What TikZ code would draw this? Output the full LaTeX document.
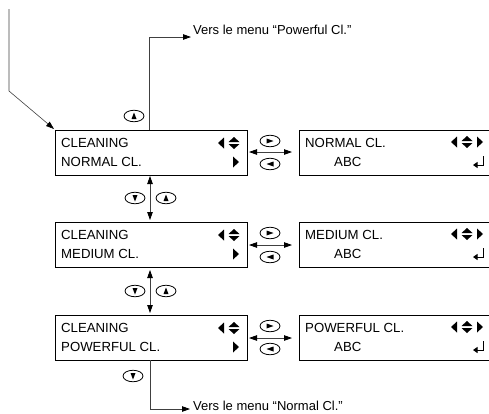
\documentclass[tikz,border=0pt]{standalone}
\usepackage{fontspec}
\setmainfont{Liberation Sans}
\usetikzlibrary{arrows.meta,shapes.geometric}
\tikzset{
  x=1pt,y=-1pt,
  lcd/.style={draw=black,line width=1.3pt,minimum width=192pt,minimum height=45pt,inner sep=0pt,anchor=north west},
  lcdr/.style={lcd,minimum width=192pt},
  txt/.style={inner sep=0pt,anchor=west,font=\fontsize{13.2}{15}\selectfont},
  note/.style={inner sep=0pt,anchor=west,font=\fontsize{13}{15}\selectfont},
  key/.style={draw=black,ellipse,line width=.8pt,minimum width=20pt,minimum height=11.5pt,inner sep=0pt},
  conn/.style={draw=black!75,line width=.8pt},
  tip/.style={-{Triangle[length=8pt,width=5.5pt,color=black]}},
  tips/.style={{Triangle[length=8pt,width=5.5pt,color=black]}-{Triangle[length=8pt,width=5.5pt,color=black]}}
}
\newcommand{\ud}[2]{\fill (#1-5.5,#2-1) -- (#1+5.5,#2-1) -- (#1,#2-6) -- cycle;\fill (#1-5.5,#2+1) -- (#1+5.5,#2+1) -- (#1,#2+6) -- cycle;}
\newcommand{\lf}[2]{\fill (#1+3,#2-5.5) -- (#1+3,#2+5.5) -- (#1-3,#2) -- cycle;}
\newcommand{\rg}[2]{\fill (#1-3,#2-5.5) -- (#1-3,#2+5.5) -- (#1+3,#2) -- cycle;}
\newcommand{\keyup}[3]{\node[key] (#1) at (#2,#3) {}; \fill (#2-2.5,#3+3) -- (#2+2.5,#3+3) -- (#2,#3-3.5) -- cycle;}
\newcommand{\keydn}[3]{\node[key] (#1) at (#2,#3) {}; \fill (#2-2.5,#3-3) -- (#2+2.5,#3-3) -- (#2,#3+3.5) -- cycle;}
\newcommand{\keyrt}[3]{\node[key] (#1) at (#2,#3) {}; \fill (#2-3.5,#3-2.5) -- (#2-3.5,#3+2.5) -- (#2+3.5,#3) -- cycle;}
\newcommand{\keylf}[3]{\node[key] (#1) at (#2,#3) {}; \fill (#2+3.5,#3-2.5) -- (#2+3.5,#3+2.5) -- (#2-3.5,#3) -- cycle;}
\begin{document}
\begin{tikzpicture}
\useasboundingbox[clip] (0,0) rectangle (489,413);
\node[lcd] (a) at (55,130) {};
\node[lcd] (b) at (55,222) {};
\node[lcd] (c) at (55,315) {};
\node[lcdr] (d) at (299,130) {};
\node[lcdr] (e) at (299,222) {};
\node[lcdr] (f) at (299,315) {};
\foreach \n/\y/\t in {a1/142.5/CLEANING,a2/161.5/NORMAL CL.,b1/235/CLEANING,b2/254/MEDIUM CL.,c1/327.5/CLEANING,c2/346.5/POWERFUL CL.}
  \node[txt] (\n) at (61,\y) {\t};
\foreach \n/\y/\t in {d1/142.5/NORMAL CL.,e1/235/MEDIUM CL.,f1/327.5/POWERFUL CL.}
  \node[txt] (\n) at (305,\y) {\t};
\foreach \n/\y in {d2/161.5,e2/254,f2/346.5}
  \node[txt] (\n) at (334,\y) {ABC};
\foreach \y in {143,235,328}{\lf{221}{\y}\ud{234}{\y}\rg{236}{\y+19}}
\foreach \y in {142,234,327}{\lf{454}{\y}\ud{467}{\y}\rg{480}{\y}
  \draw[line width=.9pt,-{Triangle[length=4.5pt,width=6pt]}] (483,\y+14) -- (483,\y+23) -- (473,\y+23);}
\node[note] (n1) at (193,30) {Vers le menu “Powerful Cl.”};
\node[note] (n2) at (193,405.5) {Vers le menu “Normal Cl.”};
\coordinate (s0) at (9,9);
\coordinate (s1) at (9,91);
\coordinate (j1) at (149,37);
\coordinate (j2) at (150,409);
\coordinate (a0) at (149,130);
\coordinate (c0) at (150,360);
\coordinate (ab1) at (150,176);
\coordinate (ab2) at (150,220);
\coordinate (bc1) at (150,270);
\coordinate (bc2) at (150,313);
\coordinate (t1) at (191,37);
\coordinate (t2) at (190,409);
\coordinate (ad1) at (249,152); \coordinate (ad2) at (292,152);
\coordinate (be1) at (249,245); \coordinate (be2) at (292,245);
\coordinate (cf1) at (249,338); \coordinate (cf2) at (292,338);
\coordinate (aa) at (54,129);
\draw[conn,tip,line width=.6pt] (s0) -- (s1) -- (aa);
\draw[conn,tip] (a0) -- (j1) -- (t1);
\draw[conn,tip] (c0) -- (j2) -- (t2);
\draw[conn,tips] (ab1) -- (ab2);
\draw[conn,tips] (bc1) -- (bc2);
\draw[conn,tips] (ad1) -- (ad2);
\draw[conn,tips] (be1) -- (be2);
\draw[conn,tips] (cf1) -- (cf2);
\keyup{k0}{134}{116}
\keydn{k1}{135}{198}\keyup{k2}{166}{198}
\keydn{k3}{135}{291}\keyup{k4}{166}{291}
\keydn{k5}{133}{376}
\keyrt{r1}{270}{141}\keylf{l1}{270}{164}
\keyrt{r2}{270}{233}\keylf{l2}{270}{257}
\keyrt{r3}{270}{326}\keylf{l3}{270}{349}
\end{tikzpicture}
\end{document}
